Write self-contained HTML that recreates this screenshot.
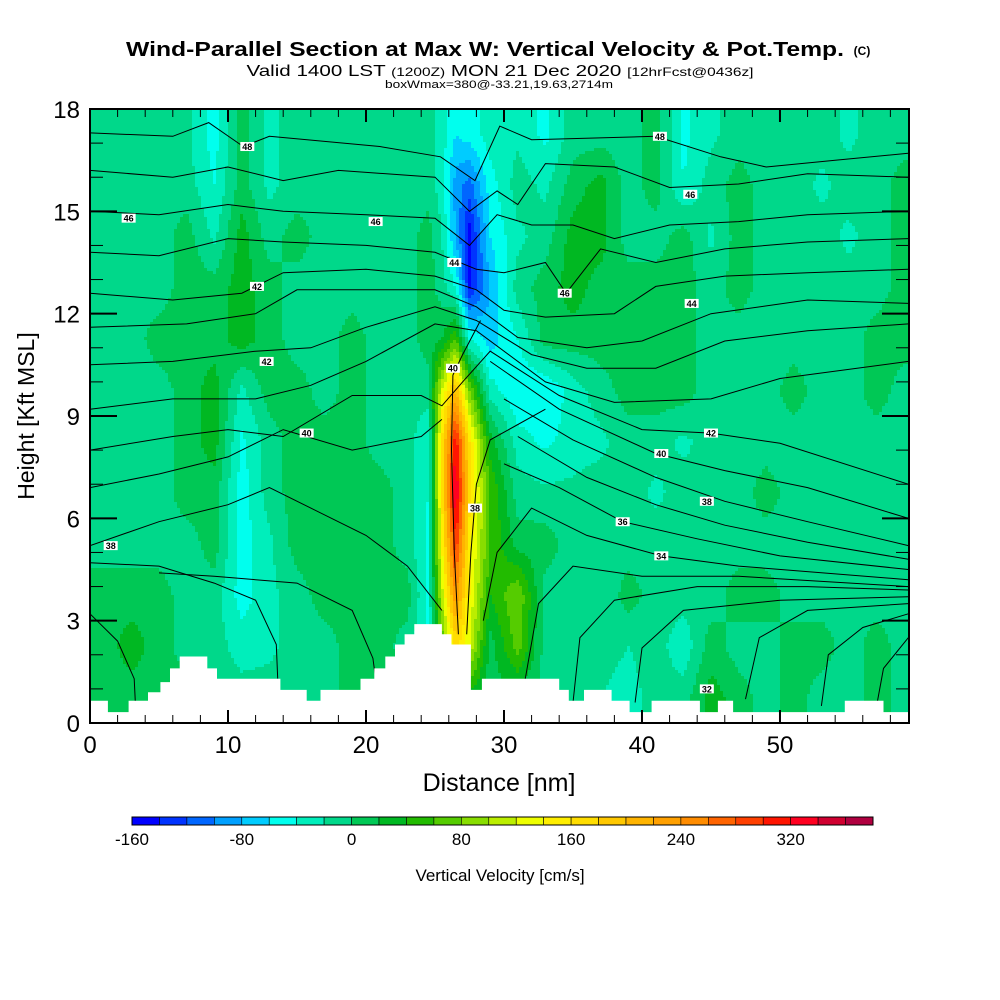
<!DOCTYPE html>
<html><head><meta charset="utf-8">
<style>
html,body{margin:0;padding:0;background:#fff;}
svg{display:block;font-family:"Liberation Sans",sans-serif;}
</style></head>
<body>
<svg id="chart" width="1000" height="1000" viewBox="0 0 1000 1000" xmlns="http://www.w3.org/2000/svg">
<defs>
<clipPath id="plotclip"><rect x="90" y="109" width="819" height="614"/></clipPath>
</defs>
<g>
<text x="485" y="56" text-anchor="middle" font-size="20" font-weight="bold" textLength="718" lengthAdjust="spacingAndGlyphs">Wind-Parallel Section at Max W: Vertical Velocity &amp; Pot.Temp.</text>
<text x="862" y="55" text-anchor="middle" font-size="12" font-weight="bold">(C)</text>
<text x="500" y="76" text-anchor="middle" font-size="16" textLength="507" lengthAdjust="spacingAndGlyphs">Valid 1400 LST <tspan font-size="12">(1200Z)</tspan> MON 21 Dec 2020 <tspan font-size="12">[12hrFcst@0436z]</tspan></text>
<text x="499" y="88" text-anchor="middle" font-size="11" textLength="228" lengthAdjust="spacingAndGlyphs">boxWmax=380@-33.21,19.63,2714m</text>
</g>
<g id="plot" clip-path="url(#plotclip)"></g>
<g id="axes"></g>
<g id="cbar"></g>
<text transform="translate(34,416) rotate(-90)" text-anchor="middle" font-size="23">Height [Kft MSL]</text>
<text x="499" y="791" text-anchor="middle" font-size="25">Distance [nm]</text>
<text x="500" y="881" text-anchor="middle" font-size="17">Vertical Velocity [cm/s]</text>
</svg>
<script>
// ---- data ----
const colEdges = [0,2,4,6,8,10,12,14,16,18,20,22,24,25,26,27,28,30,32,34,36,38,40,42,44,46,48,50,52,54,56,58,60];
const rowTops = [18,16.5,15,13.5,12,10.5,9,7.5,6,4.5,3,1.5];
const rowHeight = 1.5;
const w0  = [-10,-10,-10,-15,-50,10,-25,-10,-10,-10,-20,-10,-10,-30,-60,-50,-30,-25,-45,-10,-10,-10,10,-45,-25,-10,-10,-10,-10,-25,-10,-10];
const w1  = [-10,-10,-10,-10,-40,10,-25,-10,-10,-10,-10,-10,-10,-30,-90,-110,-50,-10,-25,10,30,-10,10,-40,-10,10,-10,-10,-25,-10,-10,10];
const w2  = [-10,-10,-10,10,-25,30,-10,10,-10,-10,-10,-10,10,-20,-80,-150,-60,-25,-10,30,30,-10,-10,10,-25,10,-10,-10,-10,-25,-10,10];
const w3  = [-10,-10,-10,10,10,30,10,-10,-10,-10,-10,-10,10,-10,-40,-140,-80,-10,10,30,10,10,10,10,-10,10,-10,-10,-10,-10,-10,10];
const w4  = [-10,-10,10,10,10,30,10,-10,-10,10,-10,-10,10,20,60,-40,-70,-40,10,10,10,10,10,10,-10,-10,-10,-10,-10,-10,10,10];
const w5  = [-10,-10,-10,10,30,-25,10,10,-10,10,-10,-10,-10,120,200,80,-30,-60,-60,-30,-10,10,10,10,-10,-10,-10,10,-10,-10,10,-10];
const w6  = [-10,-10,-10,10,30,-45,-10,10,10,10,-10,-10,-40,160,320,160,30,-30,-45,-30,-25,-10,-10,-25,-10,-10,-10,-10,-10,-10,-10,-10];
const w7  = [-10,-10,-10,10,10,-50,-10,10,10,10,10,-10,-40,160,350,170,60,-10,-15,-15,-10,-10,-25,-10,-20,-10,10,-10,-10,-10,-10,-10];
const w8  = [-10,-10,-10,-10,10,-50,-25,10,10,10,10,-10,-45,140,300,150,60,10,10,-10,-10,-10,-10,-10,-10,-10,-10,-10,-10,-10,-10,-10];
const w9  = [10,10,10,-10,-10,-50,-25,-10,10,10,10,10,-45,110,240,140,40,80,-10,-10,-20,10,-10,-10,-10,10,10,-10,-10,-10,-10,-10];
const w10 = [10,30,10,-10,-10,-30,-25,-10,-10,10,10,-10,-45,60,170,120,10,70,-10,-20,-10,-20,-10,-35,10,-10,-10,10,10,-10,10,-10];
const w11 = [10,10,10,10,-10,-10,-10,-10,-10,10,10,10,10,10,40,30,10,10,-10,-10,-20,-30,-10,-10,30,10,-10,10,-10,-10,10,-10];
const wRows = [w0,w1,w2,w3,w4,w5,w6,w7,w8,w9,w10,w11];
const levelStart = -160, levelStep = 20;
const levelColors = ["#0000ff","#0033ff","#0066ff","#00a0ff","#00ccff","#00ffee","#00eebb","#00d88a","#00c855","#00b822","#22bb00","#55cc00","#88dd00","#bbee00","#eeff00","#ffee00","#ffdd00","#ffc800","#ffb400","#ffa000","#ff8c00","#ff6400","#ff4000","#ff1400","#ff0020","#d00030","#b00040"];
const cbarLabels = [-160,-80,0,80,160,240,320];
const terrainX = [0,1.3,2.8,4.2,5.1,5.8,6.5,8.5,9.2,9.4,13.8,15.7,16.7,17.8,19.6,20.6,21.4,22.1,22.8,23.5,24.3,25.5,26.2,27.6,28.4,30.6,34,34.7,35.8,37.8,39.1,39.8,40.7,44.2,45.5,46.6,48.9,54.7,57.5,59.5];
const terrainH = [0.65,0.32,0.65,0.9,1.2,1.6,1.95,1.6,1.3,1.3,0.97,0.65,0.97,0.97,1.3,1.6,1.95,2.3,2.6,2.9,2.9,2.6,2.3,0.97,1.3,1.3,0.97,0.65,0.97,0.65,0.32,0.32,0.65,0.32,0.65,0.32,0.32,0.65,0.32,0.65];
const thetaLines = [
 [[0,17.3],[6,17.2],[8.6,17.6],[11.1,16.9],[13,17.2],[21,16.9],[25.4,16.6],[27.9,15.9],[29.7,17.5],[32,17.1],[41,17.2],[45.7,16.6],[49,16.3],[54,16.5],[59.3,16.7]],
 [[0,16.2],[6,16],[10,16.3],[14,15.9],[18,16.2],[25,16.0],[27.5,15.0],[29.5,15.6],[31,15.2],[33,16.4],[38,16.3],[42,15.7],[47,15.8],[52,16.1],[59.3,16.0]],
 [[0,15.0],[5,14.9],[10,15.2],[14,15.0],[20,14.9],[25,14.8],[27.5,14.0],[29.5,14.9],[32,14.6],[35,14.6],[38,14.2],[42,14.6],[47,14.7],[52,14.9],[59.3,15.0]],
 [[0,13.8],[5,13.7],[10,14.2],[14,14.1],[20,14.0],[25,13.8],[28,13.3],[30,13.2],[33,13.5],[34.5,12.6],[37,13.9],[41,13.5],[46,13.9],[52,14.1],[59.3,14.2]],
 [[0,12.6],[6,12.4],[11,12.6],[14,13.2],[20,13.3],[25,13.1],[28,12.7],[30,12.1],[33,11.9],[38,12.0],[41,12.8],[46,13.1],[52,13.2],[59.3,13.3]],
 [[0,11.6],[7,11.7],[12,12.0],[15,12.7],[20,12.7],[25,12.7],[28,12.2],[31,11.3],[36,11.0],[40,11.2],[45,12.0],[52,12.4],[59.3,12.3]],
 [[0,10.5],[6,10.6],[12,10.9],[16,11.0],[20,11.6],[25,12.2],[28,11.8],[32,10.8],[36,10.4],[41,10.4],[46,11.2],[52,11.5],[59.3,11.7]],
 [[0,9.2],[6,9.5],[12,9.5],[16,9.9],[20,10.6],[25,11.7],[28,11.5],[33,10.0],[38,9.4],[45,9.5],[50,10.1],[59.3,10.6]],
 [[0,8.0],[6,8.4],[10,8.6],[14,8.4],[19,9.6],[24,9.6],[25.5,9.3],[27,10.0],[29,10.9],[34,9.6],[40,8.6],[45,8.5],[50,8.2],[59.3,7.0]],
 [[28.3,11.8],[27,10.8],[26.3,10.2],[26.2,8],[26.4,5],[26.7,2.6]],
 [[33,9.2],[29,8.3],[28,7],[27.6,5],[27.3,2.6]],
 [[29,10.6],[34,9.2],[41,7.9],[46,7.4],[52,6.9],[59.3,6.0]],
 [[30,9.5],[35,8.3],[41,7.2],[46,6.5],[52,5.9],[59.3,5.2]],
 [[31,8.4],[36,7.2],[41,6.4],[46,5.8],[52,5.3],[59.3,4.8]],
 [[30,7.6],[34,6.9],[38.6,5.9],[44,5.4],[50,4.9],[59.3,4.5]],
 [[28.5,3],[29.5,5],[32,6.3],[36,5.5],[41.4,4.9],[47,4.6],[59.3,4.2]],
 [[31.5,1.2],[32.5,3.5],[35,4.6],[40,4.3],[47,4.3],[59.3,4.0]],
 [[35,0.6],[35.5,2.5],[38,3.6],[44,4.0],[52,4.0],[59.3,3.9]],
 [[39.5,0.6],[40,2.2],[43,3.3],[50,3.6],[59.3,3.7]],
 [[47.5,0.7],[48.5,2.5],[52,3.3],[59.3,3.5]],
 [[53,0.5],[53.5,2.0],[56,2.8],[59.3,3.2]],
 [[57,0.5],[57.5,1.6],[59.3,2.5]],
 [[0,6.9],[5,7.3],[10,7.8],[14,8.6],[19,8.0],[24,8.4],[25.5,8.9]],
 [[0,5.2],[5,5.9],[10,6.4],[13,6.9],[16,6.3],[20,5.5],[23,4.6],[25.5,3.3]],
 [[0,4.7],[5,4.6],[9,4.1],[12,3.6],[13.5,2.3],[13.6,1.3]],
 [[0,3.2],[2,2.4],[3.2,1.3],[3.3,0.5]],
 [[5,4.4],[9,4.3],[15,4.1],[19,3.3],[20.5,1.9],[20.8,1.0]]
];
const labelText = ["48","46","46","44","42","42","40","38","40","38","48","46","46","44","42","40","38","36","34","32"];
const labelX = [11.4,2.8,20.7,26.4,12.1,12.8,15.7,1.5,26.3,27.9,41.3,43.5,34.4,43.6,45,41.4,44.7,38.6,41.4,44.7];
const labelY = [16.9,14.8,14.7,13.5,12.8,10.6,8.5,5.2,10.4,6.3,17.2,15.5,12.6,12.3,8.5,7.9,6.5,5.9,4.9,1.0];
const xTicks = [0,10,20,30,40,50];
const yTicks = [0,3,6,9,12,15,18];

// ---- scales ----
const X0=90, X1=909, Y0=723, Y1=109;
const xMax=59.35, yMax=18;
const sx = v => X0 + v/xMax*(X1-X0);
const sy = v => Y0 - v/yMax*(Y0-Y1);
const ix = p => (p-X0)/(X1-X0)*xMax;
const iy = p => (Y0-p)/(Y0-Y1)*yMax;
const NS="http://www.w3.org/2000/svg";
function mk(tag, attrs, parent){const e=document.createElementNS(NS,tag);for(const k in attrs)e.setAttribute(k,attrs[k]);parent.appendChild(e);return e;}
function levelIndex(v){let i=Math.floor((v-levelStart)/levelStep);return Math.max(0,Math.min(levelColors.length-1,i));}

const cxs = colEdges.slice(0,-1).map((e,i)=>(e+colEdges[i+1])/2);
const cys = rowTops.map(t=>t-rowHeight/2);
function seg(arr, v, desc){
  const n=arr.length;
  if(!desc){ if(v<=arr[0])return[0,0]; if(v>=arr[n-1])return[n-2,1];
    for(let i=0;i<n-1;i++) if(v<=arr[i+1]) return [i,(v-arr[i])/(arr[i+1]-arr[i])]; }
  else { if(v>=arr[0])return[0,0]; if(v<=arr[n-1])return[n-2,1];
    for(let i=0;i<n-1;i++) if(v>=arr[i+1]) return [i,(arr[i]-v)/(arr[i]-arr[i+1])]; }
  return [n-2,1];
}
function wAt(x,y){
  const [ci,fx]=seg(cxs,x,false), [ri,fy]=seg(cys,y,true);
  const a=wRows[ri][ci], b=wRows[ri][ci+1], c=wRows[ri+1][ci], d=wRows[ri+1][ci+1];
  return (a*(1-fx)+b*fx)*(1-fy)+(c*(1-fx)+d*fx)*fy;
}

const plot=document.getElementById('plot');
const field=mk('g',{'shape-rendering':'crispEdges'},plot);


const B=3;
for(let py=Y1; py<Y0; py+=B){
  let runStart=X0, runIdx=-1;
  for(let px=X0; px<=X1; px+=B){
    const idx = px<X1 ? levelIndex(wAt(ix(px+B/2), iy(py+B/2))) : -2;
    if(idx!==runIdx){
      if(runIdx>=0){
        const r=mk('rect',{x:runStart,y:py,width:px-runStart,height:B,fill:levelColors[runIdx]},field);
        
        
      }
      runStart=px; runIdx=idx;
    }
  }
}
const cg=mk('g',{fill:'none',stroke:'#000','stroke-width':1},plot);


thetaLines.forEach(line=>{
  const pts=line.map(p=>sx(p[0]).toFixed(1)+','+sy(p[1]).toFixed(1)).join(' ');
  const pl=mk('polyline',{points:pts},cg);
  
  
});
let tp=[[sx(0),sy(0)]];
for(let i=0;i<terrainX.length;i++){
  const xa=sx(terrainX[i]), xb=sx(i+1<terrainX.length?terrainX[i+1]:xMax);
  tp.push([xa,sy(terrainH[i])]);tp.push([xb,sy(terrainH[i])]);
}
tp.push([sx(xMax),sy(0)]);
const terr=mk('polygon',{points:tp.map(p=>p[0].toFixed(1)+','+p[1].toFixed(1)).join(' '),fill:'#fff',stroke:'none'},plot);


labelText.forEach((t,i)=>{
  const g=mk('g',{},plot);
  
  
  mk('rect',{x:sx(labelX[i])-7,y:sy(labelY[i])-4.5,width:14,height:9,fill:'#fff'},g);
  const tx=mk('text',{x:sx(labelX[i]),y:sy(labelY[i])+3.5,'text-anchor':'middle','font-size':9,'font-weight':'bold'},g);
  tx.textContent=t;
});

const ax=document.getElementById('axes');
const frame=mk('rect',{x:X0,y:Y1,width:X1-X0,height:Y0-Y1,fill:'none',stroke:'#000','stroke-width':2},ax);


for(let v=0; v<=xMax; v+=2){
  const big = v%10===0; const L=big?13:8; const x=sx(v);
  const t1=mk('line',{x1:x,y1:Y0,x2:x,y2:Y0-L,stroke:'#000','stroke-width':big?2:1},ax);
  
  
  const t2=mk('line',{x1:x,y1:Y1,x2:x,y2:Y1+L,stroke:'#000','stroke-width':big?2:1},ax);
  
  
}
for(let v=0; v<=yMax; v+=1){
  const big=v%3===0; const L=big?27:13; const y=sy(v);
  const t1=mk('line',{x1:X0,y1:y,x2:X0+L,y2:y,stroke:'#000','stroke-width':big?2:1},ax);
  
  
  const t2=mk('line',{x1:X1,y1:y,x2:X1-L,y2:y,stroke:'#000','stroke-width':big?2:1},ax);
  
  
}
xTicks.forEach(v=>{
  const t=mk('text',{x:sx(v),y:753,'text-anchor':'middle','font-size':24},ax);
  
  
  t.textContent=v;
});
yTicks.forEach(v=>{
  const t=mk('text',{x:80,y:sy(v)+9,'text-anchor':'end','font-size':24},ax);
  
  
  t.textContent=v;
});
const cb=document.getElementById('cbar');
const CB0=132, CB1=873, CBy=817, CBh=8;
const bw=(CB1-CB0)/levelColors.length;
levelColors.forEach((c,i)=>{
  const r=mk('rect',{x:CB0+i*bw,y:CBy,width:bw,height:CBh,fill:c,stroke:'#000','stroke-width':0.6},cb);
  
  
});
const cbf=mk('rect',{x:CB0,y:CBy,width:CB1-CB0,height:CBh,fill:'none',stroke:'#000','stroke-width':1},cb);


cbarLabels.forEach(v=>{
  const t=mk('text',{x:CB0+(v-levelStart)/levelStep*bw,y:845,'text-anchor':'middle','font-size':17},cb);
  
  
  t.textContent=v;
});
</script>
</body></html>
